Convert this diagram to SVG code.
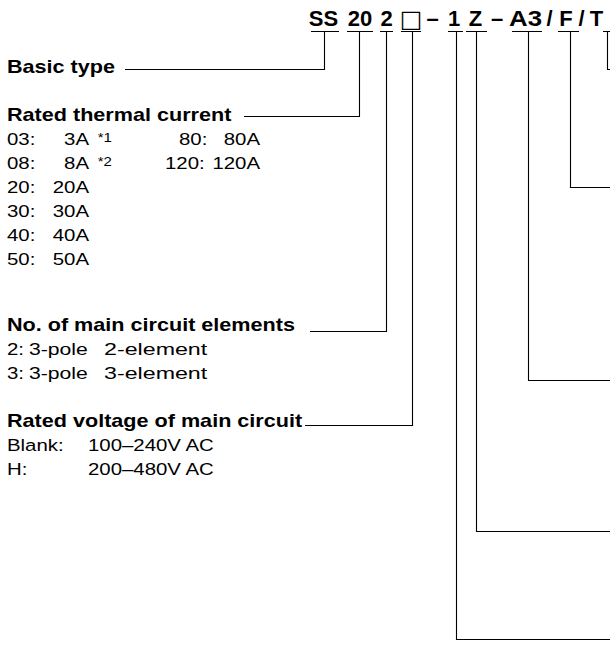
<svg xmlns="http://www.w3.org/2000/svg" width="610" height="646" viewBox="0 0 610 646">
<style>
.t{font-family:"Liberation Sans",Arial,sans-serif;font-weight:bold;font-size:22px;fill:#000;text-anchor:middle}
.h{font-family:"Liberation Sans",Arial,sans-serif;font-weight:bold;font-size:18px;fill:#000}
.r{font-family:"Liberation Sans",Arial,sans-serif;font-size:17px;fill:#000}
.s{font-family:"Liberation Sans",Arial,sans-serif;font-size:12.5px;fill:#000}
.e{text-anchor:end}
.ln{fill:none;stroke:#000;stroke-width:1.1}
</style>
<rect width="610" height="646" fill="#fff"/>
<g id="title">
<text class="t" x="323.5" y="26">SS</text>
<text class="t" x="360" y="26">20</text>
<text class="t" x="386.5" y="26">2</text>
<text class="t" x="411" y="27" style="font-family:'DejaVu Sans',sans-serif;font-weight:normal;font-size:24px">□</text>
<text class="t" x="432.5" y="26">–</text>
<text class="t" x="454" y="26">1</text>
<text class="t" x="475.5" y="26">Z</text>
<text class="t" x="497" y="26">–</text>
<text class="t" x="525.5" y="26" textLength="33" lengthAdjust="spacingAndGlyphs">A3</text>
<text class="t" x="549.5" y="26">/</text>
<text class="t" x="566" y="26">F</text>
<text class="t" x="581.5" y="26">/</text>
<text class="t" x="596.5" y="26">T</text>
</g>
<g transform="scale(1.2 1)">
<g id="basic-type">
<text class="h" x="5.8" y="73">Basic type</text>
</g>
<g id="rated-thermal-current">
<text class="h" x="5.8" y="121.5">Rated thermal current</text>
<text class="r" x="5.8" y="145">03:</text><text class="r e" x="74.2" y="145">3A</text>
<text class="s" x="81.4" y="142">*1</text>
<text class="r" x="149.2" y="145">80:</text><text class="r e" x="216.7" y="145">80A</text>
<text class="r" x="5.8" y="169">08:</text><text class="r e" x="74.2" y="169">8A</text>
<text class="s" x="81.4" y="166">*2</text>
<text class="r" x="137.5" y="169">120:</text><text class="r e" x="216.7" y="169">120A</text>
<text class="r" x="5.8" y="193">20:</text><text class="r e" x="74.2" y="193">20A</text>
<text class="r" x="5.8" y="217">30:</text><text class="r e" x="74.2" y="217">30A</text>
<text class="r" x="5.8" y="241">40:</text><text class="r e" x="74.2" y="241">40A</text>
<text class="r" x="5.8" y="265">50:</text><text class="r e" x="74.2" y="265">50A</text>
</g>
<g id="main-circuit-elements">
<text class="h" x="5.8" y="331">No. of main circuit elements</text>
<text class="r" x="5.8" y="355">2:</text><text class="r" x="24.2" y="355" textLength="49" lengthAdjust="spacingAndGlyphs">3-pole</text><text class="r" x="86.7" y="355" textLength="86" lengthAdjust="spacingAndGlyphs">2-element</text>
<text class="r" x="5.8" y="379">3:</text><text class="r" x="24.2" y="379" textLength="49" lengthAdjust="spacingAndGlyphs">3-pole</text><text class="r" x="86.7" y="379" textLength="86" lengthAdjust="spacingAndGlyphs">3-element</text>
</g>
<g id="rated-voltage">
<text class="h" x="5.8" y="427">Rated voltage of main circuit</text>
<text class="r" x="5.8" y="451">Blank:</text><text class="r" x="73.3" y="451">100–240V AC</text>
<text class="r" x="5.8" y="475">H:</text><text class="r" x="73.3" y="475">200–480V AC</text>
</g>
</g>
<g id="connectors">
<path class="ln" d="M311 31.5H339M324.5 31.5V69.5H125"/>
<path class="ln" d="M347 31.5H373M359.5 31.5V116.5H244"/>
<path class="ln" d="M380 31.5H393M386.5 31.5V331.5H310"/>
<path class="ln" d="M401 31.5H421M412.5 31.5V425.5H305"/>
<path class="ln" d="M448 31.5H463M456.5 31.5V639.5H610"/>
<path class="ln" d="M466 31.5H487M476.5 31.5V531.5H610"/>
<path class="ln" d="M512 31.5H542M528.5 31.5V380.5H610"/>
<path class="ln" d="M558 31.5H579M570.5 31.5V187.5H610"/>
<path class="ln" d="M603 31.5H610M607.5 31.5V69.5H610"/>
</g>
</svg>
